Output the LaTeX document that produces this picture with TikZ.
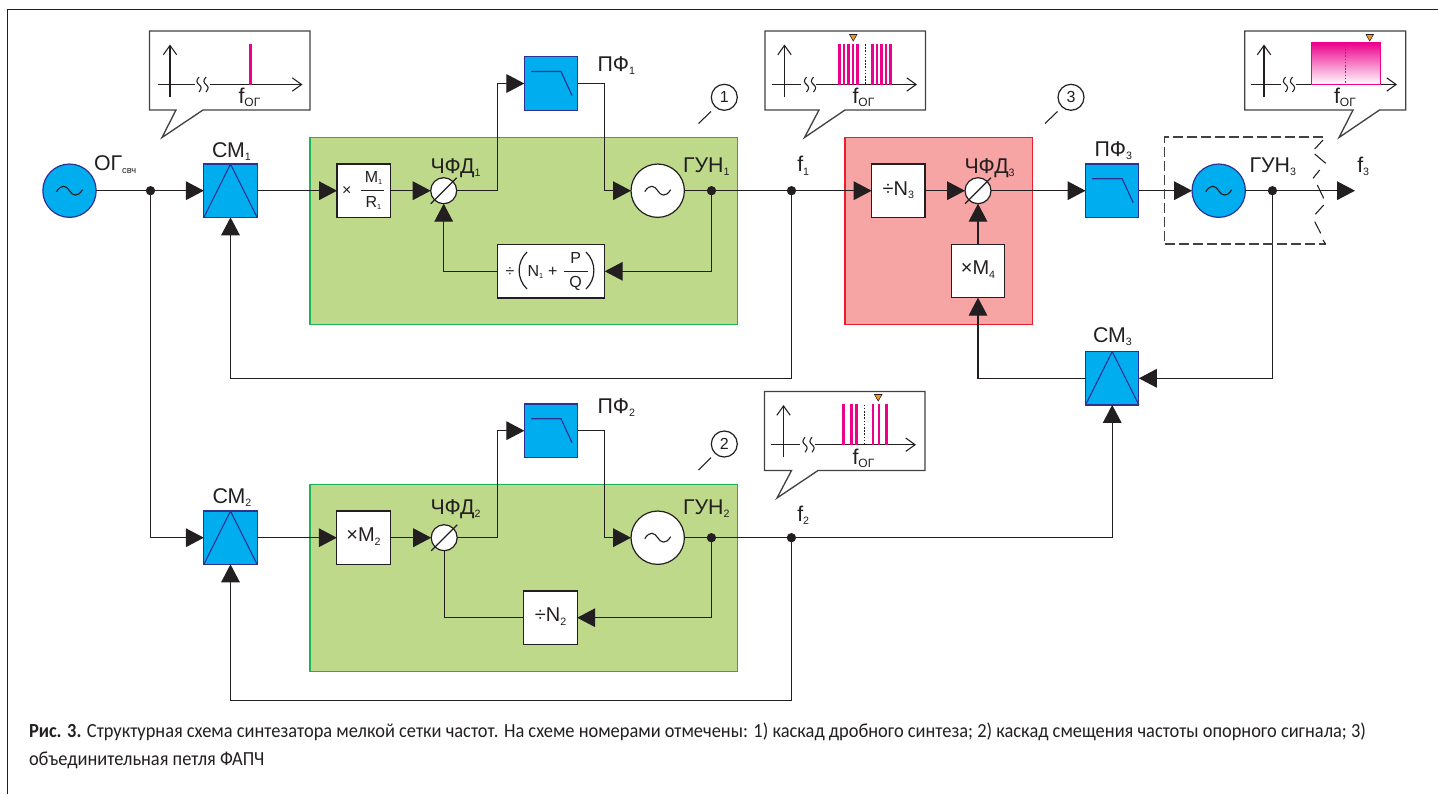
\documentclass[tikz,border=0pt]{standalone}
\usepackage{fontspec}
\usetikzlibrary{arrows.meta,calc}
\setmainfont{Liberation Sans}
\newfontfamily\capf[FakeStretch=0.92]{Carlito}
\definecolor{ink}{HTML}{231F20}
\definecolor{bluef}{HTML}{00AEEF}
\definecolor{blued}{HTML}{2E3192}
\definecolor{greenf}{HTML}{BFD98A}
\definecolor{greend}{HTML}{1FB25A}
\definecolor{pinkf}{HTML}{F7A4A4}
\definecolor{pinkd}{HTML}{ED1C2E}
\definecolor{magen}{HTML}{EC008C}
\definecolor{orang}{HTML}{F7941D}
\newcommand{\sfx}[1]{\raisebox{-2.6pt}{\fontsize{8}{8}\selectfont #1}}
\newcommand{\sfy}[1]{\raisebox{-1.5pt}{\fontsize{5.5}{6}\selectfont #1}}
\newcommand{\sfog}{\raisebox{-2.6pt}{\fontsize{9}{9}\selectfont ОГ}}
\tikzset{
 x=0.75pt,y=-0.75pt,
 wire/.style={draw=ink,line width=0.9pt},
 arr/.style={wire,-{Triangle[length=13.5pt,width=14pt]}},
 lab/.style={inner sep=0,outer sep=0,text=ink,font=\fontsize{16}{17}\selectfont,anchor=base west},
 cen/.style={inner sep=0,outer sep=0,text=ink,anchor=center},
 whitebox/.style={draw=ink,line width=0.9pt,fill=white,minimum width=40pt,minimum height=40pt,inner sep=0,outer sep=0},
 bluebox/.style={draw=blued,line width=0.9pt,fill=bluef,minimum width=40pt,minimum height=40pt,inner sep=0,outer sep=0},
 gen/.style={circle,draw=ink,line width=0.9pt,fill=white,minimum size=40pt,inner sep=0,outer sep=0},
 pfd/.style={circle,draw=ink,line width=0.9pt,fill=white,minimum size=19.5pt,inner sep=0,outer sep=0},
 dotj/.style={circle,fill=ink,minimum size=7pt,inner sep=0,outer sep=0},
 num/.style={circle,draw=ink,line width=0.9pt,fill=white,minimum size=19.5pt,inner sep=0,outer sep=0,text=ink,font=\fontsize{12}{12}\selectfont},
 panel/.style={inner sep=0,outer sep=0,line width=0.9pt,anchor=north west},
 call/.style={draw=ink!85,line width=1pt,fill=white,line join=miter},
 sym/.style={draw=blued,line width=0.85pt},
 axis/.style={draw=ink,line width=0.8pt},
 axisarr/.style={axis,-{Straight Barb[length=7pt,width=10pt,line width=0.8pt]}},
 bar/.style={draw=magen,line width=2.2pt},
 tick/.style={draw=ink,line width=0.8pt},
 dashb/.style={draw=ink!85,line width=0.9pt,dash pattern=on 7.5pt off 3pt},
}
\newcommand{\tld}[2][ink]{\draw[#1,line width=0.85pt,shift={(#2)}] (-13,1) .. controls (-8,-7) and (-3,-5) .. (0,0) .. controls (3,5) and (8,7) .. (13,-1);}
\newcommand{\mix}[1]{\draw[sym] (#1.north) -- (#1.south west) (#1.north) -- (#1.south east);}
\newcommand{\lpf}[1]{\draw[sym,shift={(#1.center)}] (-20,-12) -- (10,-12) -- (21,12);}
\newcommand{\slsh}[1]{\draw[wire,shift={(#1.center)}] (-13,13) -- (13,-13);}
\newcommand{\brk}[2]{\begin{scope}[shift={(#1,#2)}]
 \draw[axis,rounded corners=1.8pt] (-3.5,-7.5) -- (-6.5,-3) -- (-0.5,3) -- (-3.5,7.5);
 \draw[axis,rounded corners=1.8pt] (3.5,-7.5) -- (0.5,-3) -- (6.5,3) -- (3.5,7.5);
 \end{scope}}
\begin{document}
\begin{tikzpicture}
\useasboundingbox (0,0) rectangle (1438,794);
\fill[white] (0,0) rectangle (1438,794);
\draw[draw=ink,line width=0.9pt] (7.5,794) -- (7.5,9.5) -- (1438,9.5);
% panels
\node[panel,draw=greend,fill=greenf,minimum width=320.6pt,minimum height=140.2pt] (g1) at (310,137.5) {};
\node[panel,draw=pinkd,fill=pinkf,minimum width=140.6pt,minimum height=140.2pt] (p3) at (845,137.5) {};
\node[panel,draw=greend,fill=greenf,minimum width=320.6pt,minimum height=140pt] (g2) at (310,484.5) {};
% upper loop
\node[gen,fill=bluef,draw=blued] (og) at (69.5,190.7) {};
\node[dotj] (j1) at (150.5,190.7) {};
\node[bluebox] (cm1) at (230.5,190.7) {};
\node[whitebox] (mr) at (363.7,190.7) {};
\node[pfd] (pd1) at (443.7,190.7) {};
\node[bluebox] (pf1) at (551,83.5) {};
\node[gen] (gun1) at (657.7,190.7) {};
\node[dotj] (j2) at (711.5,190.7) {};
\node[dotj] (j3) at (791.5,190.7) {};
\node[whitebox,minimum width=80.6pt] (dv1) at (551,271.3) {};
% middle loop
\node[whitebox] (n3) at (898.3,190.7) {};
\node[pfd] (pd3) at (978,190.7) {};
\node[whitebox] (m4) at (978,271) {};
\node[bluebox] (pf3) at (1112.2,190.7) {};
\node[gen,fill=bluef,draw=blued] (gun3) at (1218.7,190.7) {};
\node[dotj] (j4) at (1272.4,190.7) {};
\coordinate (f3end) at (1355,190.7);
\node[bluebox] (cm3) at (1112.2,378.3) {};
% lower loop
\node[bluebox] (cm2) at (230.5,537.7) {};
\node[whitebox] (m2) at (363.5,537.7) {};
\node[pfd] (pd2) at (444.2,537.7) {};
\node[bluebox] (pf2) at (551,430.7) {};
\node[gen] (gun2) at (657.7,537.7) {};
\node[dotj] (j5) at (711.4,537.7) {};
\node[dotj] (j6) at (791.4,537.7) {};
\node[whitebox] (n2) at (550.5,617.7) {};
% glyphs in symbols
\tld{og.center}
\tld{gun1.center}
\tld{gun2.center}
\tld{gun3.center}
\mix{cm1}\mix{cm2}\mix{cm3}
\lpf{pf1}\lpf{pf2}\lpf{pf3}
\slsh{pd1}\slsh{pd2}\slsh{pd3}
% connectors
\draw[wire] (og.east) -- (j1.center);
\draw[arr] (j1.center) -- (cm1.west);
\draw[arr] (cm1.east) -- (mr.west);
\draw[arr] (mr.east) -- (pd1.west);
\draw[arr] (pd1.east) -- (497.5,190.7) -- (497.5,83.5) -- (pf1.west);
\draw[arr] (pf1.east) -- (604.5,83.5) -- (604.5,190.7) -- (gun1.west);
\draw[wire] (gun1.east) -- (j2.center) -- (j3.center);
\draw[arr] (j3.center) -- (n3.west);
\draw[arr] (j2.center) |- (dv1.east);
\draw[arr] (dv1.west) -| (pd1.south);
\draw[arr] (j3.center) |- (230.5,378.3) -- (cm1.south);
\draw[arr] (n3.east) -- (pd3.west);
\draw[arr] (m4.north) -- (pd3.south);
\draw[arr] (pd3.east) -- (pf3.west);
\draw[arr] (pf3.east) -- (gun3.west);
\draw[wire] (gun3.east) -- (j4.center);
\draw[arr] (j4.center) -- (f3end);
\draw[arr] (j4.center) |- (cm3.east);
\draw[arr] (cm3.west) -| (m4.south);
\draw[arr] (j1.center) |- (cm2.west);
\draw[arr] (cm2.east) -- (m2.west);
\draw[arr] (m2.east) -- (pd2.west);
\draw[arr] (pd2.east) -- (497.5,537.7) -- (497.5,430.7) -- (pf2.west);
\draw[arr] (pf2.east) -- (604.5,430.7) -- (604.5,537.7) -- (gun2.west);
\draw[wire] (gun2.east) -- (j5.center) -- (j6.center);
\draw[arr] (j6.center) -| (cm3.south);
\draw[arr] (j5.center) |- (n2.east);
\draw[wire] (n2.west) -| (pd2.south);
\draw[arr] (j6.center) |- (230.5,700.5) -- (cm2.south);
% box contents
\node[cen,font=\fontsize{12}{13}\selectfont] (tx1) at (346.7,191.5) {×};
\node[cen,font=\fontsize{12}{13}\selectfont] (tm1) at (373.5,178) {M\sfy{1}};
\draw[wire] (360.5,190.7) -- (384,190.7);
\node[cen,font=\fontsize{12}{13}\selectfont] (tr1) at (373.5,203) {R\sfy{1}};
\node[cen,font=\fontsize{12}{13}\selectfont] (td1) at (510,272) {÷};
\draw[wire] (527,252) .. controls (516.5,262) and (516.5,279) .. (527,289);
\node[cen,font=\fontsize{12}{13}\selectfont] (tn1) at (535.5,272) {N\sfy{1}};
\node[cen,font=\fontsize{12}{13}\selectfont] (tpl) at (552.7,272) {+};
\node[cen,font=\fontsize{12}{13}\selectfont] (tpp) at (575.7,258) {P};
\draw[wire] (563.5,271.5) -- (588,271.5);
\node[cen,font=\fontsize{12}{13}\selectfont] (tq) at (575.7,283.5) {Q};
\draw[wire] (586,252) .. controls (596.5,262) and (596.5,279) .. (586,289);
\node[cen,font=\fontsize{15}{16}\selectfont] (tn3) at (898.3,190) {÷N\sfx{3}};
\node[cen,font=\fontsize{15}{16}\selectfont] (tm4) at (978,269.5) {×M\sfx{4}};
\node[cen,font=\fontsize{15}{16}\selectfont] (tm2) at (363.5,536.5) {×M\sfx{2}};
\node[cen,font=\fontsize{15}{16}\selectfont] (tn2) at (550.5,616.5) {÷N\sfx{2}};
% labels
\node[lab] (log) at (94,170) {ОГ\raisebox{-2.6pt}{\fontsize{7}{8}\selectfont свч}};
\node[lab] (lc1) at (212,157.5) {СМ\sfx{1}};
\node[lab] (lc2) at (212.5,503.5) {СМ\sfx{2}};
\node[lab] (lc3) at (1093,342.5) {СМ\sfx{3}};
\node[lab] (ld1) at (430.5,173.3) {ЧФД\sfx{1}};
\node[lab] (ld2) at (430.5,514) {ЧФД\sfx{2}};
\node[lab] (ld3) at (964.5,173) {ЧФД\sfx{3}};
\node[lab] (lp1) at (597.5,71.5) {ПФ\sfx{1}};
\node[lab] (lp2) at (597.5,413.5) {ПФ\sfx{2}};
\node[lab] (lp3) at (1094.5,156) {ПФ\sfx{3}};
\node[lab] (lg1) at (683,172.3) {ГУН\sfx{1}};
\node[lab] (lg2) at (683,514) {ГУН\sfx{2}};
\node[lab] (lg3) at (1249.5,172.3) {ГУН\sfx{3}};
\node[lab] (lf1) at (797.3,171.7) {f\sfx{1}};
\node[lab] (lf2) at (797.3,521.5) {f\sfx{2}};
\node[lab] (lf3) at (1357.3,172) {f\sfx{3}};
% numbered marks
\node[num] (c1) at (724.3,97.3) {1};
\node[num] (c2) at (724.3,444) {2};
\node[num] (c3) at (1071,97.3) {3};
\draw[tick] (711,111.5) -- (698.5,123.5);
\draw[tick] (711,457.5) -- (698.5,470);
\draw[tick] (1057.5,111.5) -- (1045,123.5);
% dashed VCO enclosure
\draw[dashb] (1323,137) -- (1164.7,137) -- (1164.7,244) -- (1325.5,244);
\draw[tick] (1323,140) -- (1314.7,149);
\draw[tick] (1314.7,154) -- (1325.7,163.3);
\draw[tick] (1319.7,170) -- (1313,178.3);
\draw[tick] (1317.3,185) -- (1323.7,198.3);
\draw[tick] (1323.7,205) -- (1315.3,214.3);
\draw[tick] (1314.7,221.7) -- (1320.7,233.3);
\draw[tick] (1323,240) -- (1325.7,244.3);
% callout 1
\draw[call] (149.5,31) -- (310,31) -- (310,110) -- (203,110) -- (162,137.5) -- (176,110) -- (149.5,110) -- cycle;
\draw[axisarr] (170,97) -- (170,44.5);
\draw[axis] (157.5,84.5) -- (195,84.5);
\draw[axisarr] (210,84.5) -- (302.5,84.5);
\brk{202.5}{84.5}
\draw[bar] (250.5,44) -- (250.5,84.5);
\node[lab] (lo1) at (238.5,103.5) {f\sfog};
% callout 2
\draw[call] (765,31) -- (925.5,31) -- (925.5,110) -- (845,110) -- (804.5,137.5) -- (819,110) -- (765,110) -- cycle;
\draw[axisarr] (784.5,97) -- (784.5,44.5);
\draw[axis] (772,84.5) -- (801,84.5);
\draw[axisarr] (816,84.5) -- (917,84.5);
\brk{810}{84.5}
\foreach \xx in {839.5,844,848.5,853,857.5,872.5,877,881.5,886,890.5} \draw[bar] (\xx,44) -- (\xx,84.5);
\draw[draw=ink,line width=0.7pt,dash pattern=on 1.2pt off 1.2pt] (865,44) -- (865,84.5);
\fill[orang,draw=ink,line width=0.4pt] (849.5,34.5) -- (857,34.5) -- (853.2,41) -- cycle;
\node[lab] (lo2) at (852.5,103.5) {f\sfog};
% callout 3
\draw[call] (1244.7,31) -- (1405.7,31) -- (1405.7,110) -- (1379.5,110) -- (1339,137.5) -- (1353,110) -- (1244.7,110) -- cycle;
\draw[axisarr] (1264,97) -- (1264,44.5);
\draw[axis] (1251,84.5) -- (1281,84.5);
\draw[axisarr] (1296,84.5) -- (1397,84.5);
\brk{1289}{84.5}
\shade[top color=magen,bottom color=white,draw=magen,line width=0.7pt] (1311.5,42.5) rectangle (1380.5,84.5);
\draw[draw=magen,line width=0.7pt,dash pattern=on 1.2pt off 1.2pt] (1345.5,42.5) -- (1345.5,84.5);
\fill[orang,draw=ink,line width=0.4pt] (1366,34.5) -- (1373.5,34.5) -- (1369.7,41) -- cycle;
\node[lab] (lo3) at (1334,103.5) {f\sfog};
% callout 4
\draw[call] (764.5,391.5) -- (925,391.5) -- (925,470.5) -- (818,470.5) -- (777,498) -- (791.5,470.5) -- (764.5,470.5) -- cycle;
\draw[axisarr] (783.5,457) -- (783.5,405);
\draw[axis] (771,444.7) -- (800,444.7);
\draw[axisarr] (815,444.7) -- (916,444.7);
\brk{808.5}{444.7}
\foreach \xx in {843.5,851.5,856.5,873,879,886.5} \draw[bar] (\xx,403.5) -- (\xx,444.7);
\draw[draw=ink,line width=0.7pt,dash pattern=on 1.2pt off 1.2pt] (864,404.5) -- (864,444.7);
\fill[orang,draw=ink,line width=0.4pt] (874.5,394.5) -- (882,394.5) -- (878.2,401) -- cycle;
\node[lab] (lo4) at (852.5,464) {f\sfog};
% caption
\node[inner sep=0,outer sep=0,anchor=base west,text=ink,font=\capf\fontsize{15}{16}\selectfont] (cap1) at (29,737) {{\bfseries Рис. 3.} Структурная схема синтезатора мелкой сетки частот. На схеме номерами отмечены: 1) каскад дробного синтеза; 2) каскад смещения частоты опорного сигнала; 3)};
\node[inner sep=0,outer sep=0,anchor=base west,text=ink,font=\capf\fontsize{15}{16}\selectfont] (cap2) at (29,765) {объединительная петля ФАПЧ};
\end{tikzpicture}
\end{document}
